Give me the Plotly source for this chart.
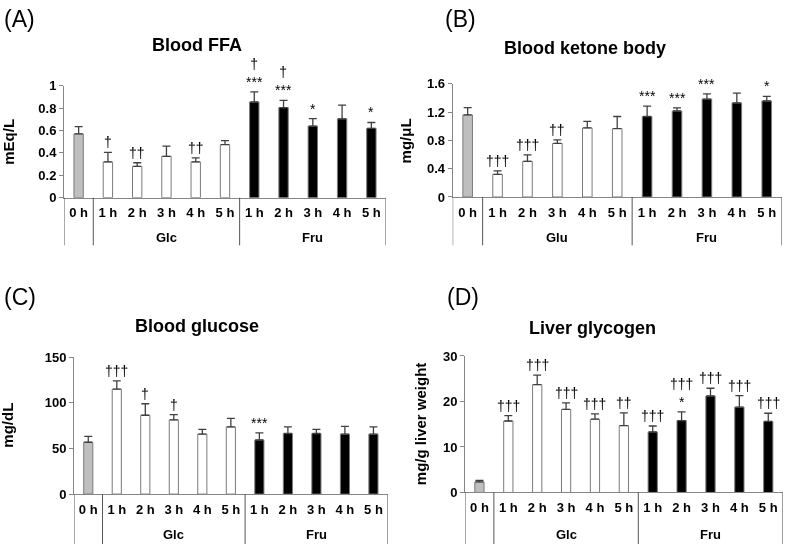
import plotly.graph_objects as go

W, H = 789, 552

categories = ["0 h", "1 h", "2 h", "3 h", "4 h", "5 h", "1 h", "2 h", "3 h", "4 h", "5 h"]
groups_ac = ["Glc", "Fru"]
groups_b = ["Glu", "Fru"]

ffa_mean = [0.57, 0.32, 0.28, 0.37, 0.32, 0.475, 0.855, 0.805, 0.64, 0.705, 0.62]
ffa_err = [0.065, 0.085, 0.032, 0.09, 0.035, 0.035, 0.09, 0.065, 0.067, 0.122, 0.052]
ffa_sig = ["", "†", "††", "", "††", "", "†<br>***", "†<br>***", "*", "", "*"]

ketone_mean = [1.16, 0.32, 0.505, 0.757, 0.977, 0.968, 1.138, 1.216, 1.385, 1.33, 1.358]
ketone_err = [0.105, 0.05, 0.09, 0.05, 0.092, 0.17, 0.146, 0.044, 0.074, 0.138, 0.064]
ketone_sig = ["", "†††", "†††", "††", "", "", "***", "***", "***", "", "*"]

glucose_mean = [56.8, 115, 86.4, 81.4, 65.7, 73.6, 59.3, 66.4, 66.4, 65.7, 65.7]
glucose_err = [6.4, 9, 12.6, 5.7, 5.3, 9.3, 7.8, 7.2, 4.6, 8.6, 7.9]
glucose_sig = ["", "†††", "†", "†", "", "", "***", "", "", "", ""]

glycogen_mean = [2.3, 15.7, 23.7, 18.25, 16.1, 14.7, 13.3, 15.8, 21.2, 18.75, 15.6]
glycogen_err = [0.35, 1.2, 2.1, 1.45, 1.15, 2.8, 1.3, 1.9, 1.7, 2.55, 1.8]
glycogen_sig = ["", "†††", "†††", "†††", "†††", "††", "†††", "†††<br>*", "†††", "†††", "†††"]

bar_fill = ["#BFBFBF"] + ["#FFFFFF"] * 5 + ["#000000"] * 5
FONT = "Liberation Sans, Arial, sans-serif"
AX = "#868686"

panels = [
    dict(letter="(A)", title="Blood FFA", ytitle="mEq/L", mean=ffa_mean, err=ffa_err, sig=ffa_sig,
         groups=groups_ac, yr=[0, 1], dtick=0.2,
         px=(64, 386), py=(196, 81), title_xy=(197, 39), letter_xy=(2, 12), ytitle_x=9,
         cat_y=212, grp_y=237, div_bottom=245),
    dict(letter="(B)", title="Blood ketone body", ytitle="mg/μL", mean=ketone_mean, err=ketone_err, sig=ketone_sig,
         groups=groups_b, yr=[0, 1.6], dtick=0.4,
         px=(452.7, 781.7), py=(195.3, 79), title_xy=(585, 42), letter_xy=(443, 12), ytitle_x=405,
         cat_y=212, grp_y=237, div_bottom=245),
    dict(letter="(C)", title="Blood glucose", ytitle="mg/dL", mean=glucose_mean, err=glucose_err, sig=glucose_sig,
         groups=groups_ac, yr=[0, 150], dtick=50,
         px=(74, 387.7), py=(500.7, 360), title_xy=(197, 328), letter_xy=(2, 298), ytitle_x=8,
         cat_y=517, grp_y=542, div_bottom=552),
    dict(letter="(D)", title="Liver glycogen", ytitle="mg/g liver weight", mean=glycogen_mean, err=glycogen_err,
         sig=glycogen_sig, groups=groups_ac, yr=[0, 30], dtick=10,
         px=(465, 782.7), py=(499, 358.7), title_xy=(592, 330), letter_xy=(445, 298), ytitle_x=420,
         cat_y=517, grp_y=542, div_bottom=552),
]

fig = go.Figure()
annotations = []
shapes = []
xpos = list(range(len(categories)))

for k, p in enumerate(panels, start=1):
    xa = "x" if k == 1 else f"x{k}"
    ya = "y" if k == 1 else f"y{k}"
    xd = [p["px"][0] / W, p["px"][1] / W]
    yd = [1 - p["py"][0] / H, 1 - p["py"][1] / H]
    fig.add_trace(go.Bar(
        x=xpos, y=p["mean"], xaxis=xa, yaxis=ya, width=0.32,
        marker=dict(color=bar_fill, line=dict(color="#7A7A7A", width=1)),
        error_y=dict(type="data", array=p["err"], arrayminus=[0] * len(p["err"]), symmetric=False,
                     color="#404040", thickness=1.3, width=4),
        showlegend=False, hoverinfo="skip",
    ))
    sfx = "" if k == 1 else str(k)
    fig.layout["xaxis" + sfx] = dict(
        domain=xd, anchor=ya, range=[-0.5, 10.5], tickvals=xpos, ticktext=categories,
        ticks="", showline=True, linecolor=AX, linewidth=1, showgrid=False, zeroline=False,
        tickfont=dict(family=FONT, size=13, color="#000000", weight="bold"), ticklabelstandoff=3,
        fixedrange=True,
    )
    fig.layout["yaxis" + sfx] = dict(
        domain=yd, anchor=xa, range=p["yr"], dtick=p["dtick"], tick0=0,
        ticks="outside", ticklen=4, tickcolor=AX, showline=True, linecolor=AX, linewidth=1,
        showgrid=False, zeroline=False,
        tickfont=dict(family=FONT, size=13, color="#000000", weight="bold"),
        fixedrange=True,
    )
    # group dividers
    y_zero = yd[0]
    y_bot = 1 - p["div_bottom"] / H
    for b in [-0.5, 0.5, 5.5, 10.5]:
        shapes.append(dict(type="line", xref=xa, yref="paper", x0=b, x1=b, y0=y_zero, y1=y_bot,
                           line=dict(color="#555555", width=1)))
    # group labels
    for g, cx in zip(p["groups"], [3, 8]):
        annotations.append(dict(xref=xa, yref="paper", x=cx, y=1 - p["grp_y"] / H, text=g, showarrow=False,
                                font=dict(family=FONT, size=13, color="#000000", weight="bold"),
                                xanchor="center", yanchor="middle"))
    # significance marks
    for i, s in enumerate(p["sig"]):
        if s:
            annotations.append(dict(xref=xa, yref=ya, x=i, y=p["mean"][i] + p["err"][i], text=s,
                                    showarrow=False, xanchor="center", yanchor="bottom", yshift=0,
                                    font=dict(family=FONT, size=14, color="#000000")))
    # title
    annotations.append(dict(xref="paper", yref="paper", x=p["title_xy"][0] / W, y=1 - p["title_xy"][1] / H,
                            text=p["title"], showarrow=False, xanchor="center", yanchor="middle",
                            font=dict(family=FONT, size=18, color="#000000", weight="bold")))
    annotations.append(dict(xref="paper", yref="paper", x=p["letter_xy"][0] / W, y=1 - p["letter_xy"][1] / H,
                            text=p["letter"], showarrow=False, xanchor="left", yanchor="middle",
                            font=dict(family=FONT, size=23, color="#000000")))
    annotations.append(dict(xref="paper", yref="paper", x=p["ytitle_x"] / W, y=(yd[0] + yd[1]) / 2,
                            text=p["ytitle"], showarrow=False, textangle=-90, xanchor="center", yanchor="middle",
                            font=dict(family=FONT, size=15, color="#000000", weight="bold")))

fig.update_layout(
    width=W, height=H, autosize=False, margin=dict(l=0, r=0, t=0, b=0),
    paper_bgcolor="#FFFFFF", plot_bgcolor="#FFFFFF",
    annotations=annotations, shapes=shapes, bargap=0,
)
fig.write_html(
    "out.html", config={"displayModeBar": False, "staticPlot": True},
    post_script=(
        "document.body.style.margin='0px';document.body.style.overflow='hidden';"
        "document.querySelectorAll('svg.main-svg').forEach(function(s){s.style.willChange='transform';});"
    ),
)
